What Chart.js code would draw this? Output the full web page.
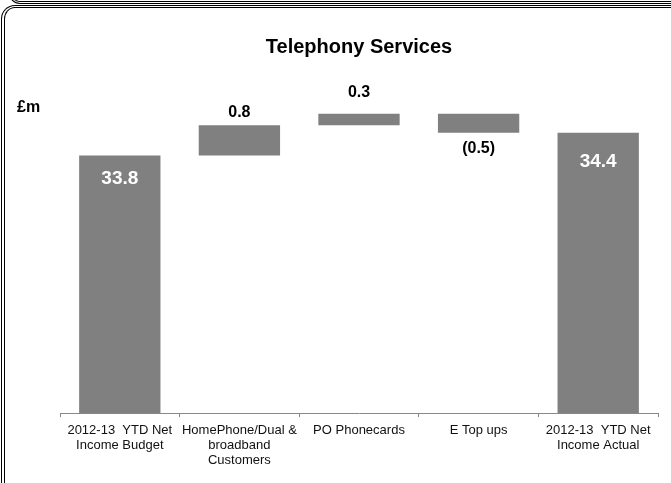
<!DOCTYPE html>
<html>
<head>
<meta charset="utf-8">
<title>Telephony Services</title>
<script src="https://cdn.jsdelivr.net/npm/chart.js@4/dist/chart.umd.min.js"></script>
<style>
  html, body { margin: 0; padding: 0; background: #fff; overflow: hidden; }
  #wrap { position: relative; width: 671px; height: 483px; overflow: hidden; }
  /* slide frame: bottom of the box above, and the rounded box round the chart */
  .frame-top {
    position: absolute; box-sizing: border-box;
    left: 9px; top: -27px; width: 700px; height: 31px;
    border-bottom: 3px double #000; border-left: 3px double #000;
    border-bottom-left-radius: 11px;
  }
  .frame {
    position: absolute; box-sizing: border-box;
    left: 1px; top: 5px; width: 720px; height: 540px;
    border-top: 3px double #000; border-left: 4px double #000;
    border-top-left-radius: 14px;
  }
  canvas { position: absolute; left: 0; top: 0; }
</style>
</head>
<body>
<div id="wrap">
  <div class="frame-top"></div>
  <div class="frame"></div>
  <canvas id="chart" width="671" height="483"></canvas>
</div>
<script>
const categories = [
  ["2012-13  YTD Net", "Income Budget"],
  ["HomePhone/Dual &", "broadband", "Customers"],
  ["PO Phonecards"],
  ["E Top ups"],
  ["2012-13  YTD Net", "Income Actual"]
];
const budget = 33.8;
const changes = [0.8, 0.3, -0.5];
const actual = 34.4;

const FONT = "'Liberation Sans', Arial, sans-serif";

// waterfall: totals stand on the axis, changes float from the running total
let running = budget;
const steps = changes.map(c => {
  const from = running;
  running = running + c;
  return [from, running];
});
const barData = [budget, ...steps, actual];
const labelValues = [budget, ...changes, actual];

// gap between bar edge and its value label, per bar
const labelGap = [23, 13, 21, 16, 29];

const valueLabels = {
  id: "valueLabels",
  afterDatasetsDraw(chart) {
    const ctx = chart.ctx;
    const meta = chart.getDatasetMeta(0);
    ctx.save();
    ctx.textAlign = "center";
    ctx.textBaseline = "middle";
    meta.data.forEach((bar, i) => {
      const top = Math.min(bar.y, bar.base);
      const bottom = Math.max(bar.y, bar.base);
      const v = labelValues[i];
      if (i === 0 || i === meta.data.length - 1) {
        ctx.fillStyle = "#fff";
        ctx.font = "bold 19px " + FONT;
        ctx.fillText(v.toFixed(1), bar.x, top + labelGap[i]);
      } else if (v >= 0) {
        ctx.fillStyle = "#000";
        ctx.font = "bold 16px " + FONT;
        ctx.fillText(v.toFixed(1), bar.x, top - labelGap[i]);
      } else {
        ctx.fillStyle = "#000";
        ctx.font = "bold 16px " + FONT;
        ctx.fillText("(" + Math.abs(v).toFixed(1) + ")", bar.x, bottom + labelGap[i]);
      }
    });
    // unit label
    ctx.textAlign = "left";
    ctx.fillStyle = "#000";
    ctx.font = "bold 16px " + FONT;
    ctx.fillText("£m", 17, 108);
    ctx.restore();
  }
};

new Chart(document.getElementById("chart"), {
  type: "bar",
  data: {
    labels: categories,
    datasets: [{
      data: barData,
      backgroundColor: "#808080",
      borderWidth: 0,
      categoryPercentage: 1,
      barPercentage: 0.68
    }]
  },
  options: {
    responsive: false,
    animation: false,
    layout: { padding: { left: 60, right: 13, top: 0, bottom: 9 } },
    plugins: {
      legend: { display: false },
      tooltip: { enabled: false },
      title: {
        display: true,
        text: "Telephony Services",
        color: "#000",
        font: { family: FONT, size: 20, weight: "bold" },
        padding: { top: 35, bottom: 51 }
      }
    },
    scales: {
      y: { display: false, min: 27, max: 35 },
      x: {
        grid: {
          display: true,
          offset: true,
          drawOnChartArea: false,
          drawTicks: true,
          tickLength: 4,
          color: "#888"
        },
        border: { display: true, color: "#888" },
        ticks: {
          color: "#111",
          font: { family: FONT, size: 13, lineHeight: 1.15 },
          padding: 6,
          maxRotation: 0,
          autoSkip: false
        }
      }
    }
  },
  plugins: [valueLabels]
});
</script>
</body>
</html>
